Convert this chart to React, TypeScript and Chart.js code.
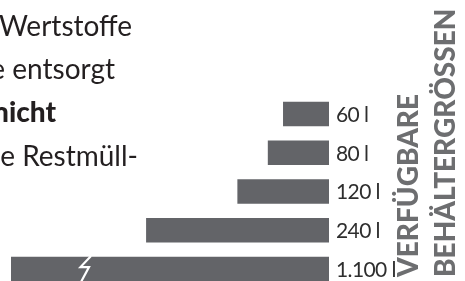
import React, { useEffect, useRef } from "react";
import { Chart, registerables } from "chart.js";
Chart.register(...registerables);

const categories = ["60 l", "80 l", "120 l", "240 l", "1.100 l"];
const volumes = [60, 80, 120, 240, 1100];
const axisMax = 418;
const textLines = ["Wertstoffe", "e entsorgt", "nicht", "e Restmüll-"];
const textBold = [false, false, true, false];
const textRight = [132, 115, 56, 138];
const textBaseline = [36, 79, 122, 166];
const titleLines = ["VERFÜGBARE", "BEHÄLTERGRÖSSEN"];
const titleLeft = [393, 430];

const BAR = "#636468";

export default function App() {
  const ref = useRef<HTMLCanvasElement>(null);
  useEffect(() => {
    const labelPlugin = {
      id: "valueLabels",
      afterDatasetsDraw(chart: any) {
        const { ctx, chartArea } = chart;
        const meta = chart.getDatasetMeta(0);
        ctx.save();
        ctx.font = "21px Lato";
        (ctx as any).letterSpacing = "-0.6px";
        ctx.fillStyle = "#2e2e2e";
        ctx.textBaseline = "middle";
        ctx.textAlign = "left";
        meta.data.forEach((bar: any, i: number) => {
          ctx.fillText(categories[i], chartArea.right + 7, bar.y + 1);
        });
        (ctx as any).letterSpacing = "0px";
        // axis-break mark on the truncated bar
        const last = meta.data[meta.data.length - 1];
        const p = last.getProps(["y", "height"], true);
        const top = p.y - p.height / 2;
        const h = p.height;
        const x0 = chartArea.left;
        ctx.beginPath();
        ctx.moveTo(x0 + 80, top - 1);
        ctx.lineTo(x0 + 69.5, top + h * 0.42);
        ctx.lineTo(x0 + 78, top + h * 0.42);
        ctx.lineTo(x0 + 70, top + h + 1);
        ctx.strokeStyle = "#ffffff";
        ctx.lineWidth = 2.2;
        ctx.lineJoin = "miter";
        ctx.stroke();
        ctx.restore();
      },
    };
    const chart = new Chart(ref.current!, {
      type: "bar",
      data: {
        labels: categories,
        datasets: [
          {
            data: volumes,
            backgroundColor: BAR,
            borderWidth: 0,
            barThickness: 24,
          },
        ],
      },
      options: {
        indexAxis: "y",
        responsive: false,
        animation: false,
        devicePixelRatio: 1,
        layout: { padding: { left: 11, right: 136, top: 94.6, bottom: 11.6 } },
        plugins: { legend: { display: false }, tooltip: { enabled: false } },
        scales: {
          x: { type: "linear", reverse: true, min: 0, max: axisMax, display: false },
          y: { type: "category", display: false },
        },
      },
      plugins: [labelPlugin],
    });
    return () => chart.destroy();
  }, []);

  return (
    <div
      style={{
        position: "fixed",
        left: 0,
        top: 0,
        width: 465,
        height: 281,
        overflow: "hidden",
        background: "#ffffff",
      }}
    >
      <canvas
        ref={ref}
        width={465}
        height={300}
        style={{ position: "absolute", left: 0, top: 0, width: 465, height: 300 }}
      />
      {textLines.map((t, i) => (
        <div
          key={t}
          style={{
            position: "absolute",
            right: 465 - textRight[i],
            top: textBaseline[i] - 25,
            font: `${textBold[i] ? 900 : 400} 28px Lato`,
            lineHeight: "28px",
            color: "#231f20",
            whiteSpace: "nowrap",
          }}
        >
          {t}
        </div>
      ))}
      {titleLines.map((t, i) => (
        <div
          key={t}
          style={{
            position: "absolute",
            left: titleLeft[i],
            top: 277,
            font: "900 28px Lato",
            lineHeight: "28px",
            color: "#6d6e70",
            whiteSpace: "nowrap",
            transformOrigin: "0 0",
            transform: "rotate(-90deg)",
          }}
        >
          {t}
        </div>
      ))}
    </div>
  );
}
